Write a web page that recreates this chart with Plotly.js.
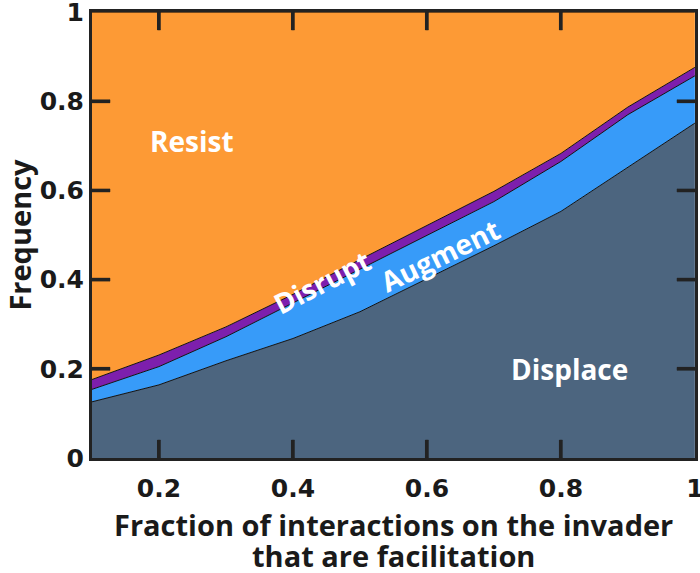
<!DOCTYPE html>
<html>
<head>
<meta charset="utf-8">
<script src="https://cdn.plot.ly/plotly-3.0.1.min.js"></script>
<style>html,body{margin:0;padding:0;background:#fff;}#chart{width:700px;height:573px;}</style>
</head>
<body>
<div id="chart"></div>
<script>
// Fraction of interactions on the invader that are facilitation
const xFrac = [0.1, 0.2, 0.3, 0.4, 0.5, 0.6, 0.7, 0.8, 0.9, 1.0];
// Frequencies of each outcome (stacked from bottom)
const displace = [0.126, 0.164, 0.218, 0.268, 0.328, 0.402, 0.476, 0.553, 0.652, 0.751];
const augment  = [0.028, 0.041, 0.054, 0.080, 0.096, 0.098, 0.099, 0.112, 0.118, 0.106];
const disrupt  = [0.022, 0.026, 0.022, 0.019, 0.021, 0.022, 0.023, 0.018, 0.017, 0.019];
const resist   = [0.824, 0.769, 0.706, 0.633, 0.555, 0.478, 0.402, 0.317, 0.213, 0.124];

const seriesNames = ['Displace', 'Augment', 'Disrupt', 'Resist'];
const seriesValues = [displace, augment, disrupt, resist];
const seriesColors = ['#4c657f', '#379bf9', '#7d1fad', '#fd9a35'];

const xTicks = [0.2, 0.4, 0.6, 0.8, 1];
const xTickText = ['0.2', '0.4', '0.6', '0.8', '1'];
const yTicks = [0, 0.2, 0.4, 0.6, 0.8, 1];
const yTickText = ['0', '0.2', '0.4', '0.6', '0.8', '1'];

const W = 700, H = 573;
const M = {l: 92, r: 5, t: 12, b: 115};
const xRange = [0.1, 1.0002];
const yRange = [0, 1.0002];
const tickColor = '#222';
const tickLen = 18;

const traces = seriesNames.map((name, i) => ({
  type: 'scatter', mode: 'lines', name: name, x: xFrac, y: seriesValues[i],
  stackgroup: 'one', fillcolor: seriesColors[i], line: {color: '#111', width: 1},
  hoverinfo: 'x+y+name'
}));

// Inward tick marks on all four sides, built from the tick values as small filled bars
const pxX = (xRange[1] - xRange[0]) / (W - M.l - M.r);
const pxY = (yRange[1] - yRange[0]) / (H - M.t - M.b);
function tickBar(x0, x1, y0, y1) {
  traces.push({
    type: 'scatter', mode: 'lines', x: [x0, x1, x1, x0, x0], y: [y0, y0, y1, y1, y0],
    fill: 'toself', fillcolor: tickColor, line: {color: tickColor, width: 0.5},
    hoverinfo: 'skip', showlegend: false
  });
}
xTicks.filter(v => v > xRange[0] && v < 1).forEach(v => {
  tickBar(v - 1.5 * pxX, v + 1.5 * pxX, yRange[0], yRange[0] + tickLen * pxY);
  tickBar(v - 1.5 * pxX, v + 1.5 * pxX, yRange[1] - tickLen * pxY, yRange[1]);
});
yTicks.filter(v => v > yRange[0] && v < 1).forEach(v => {
  tickBar(xRange[0], xRange[0] + tickLen * pxX, v - 1.5 * pxY, v + 1.5 * pxY);
  tickBar(xRange[1] - tickLen * pxX, xRange[1], v - 1.5 * pxY, v + 1.5 * pxY);
});

const axisCommon = {
  showline: true, linecolor: tickColor, linewidth: 3, mirror: 'ticks',
  ticks: 'inside', ticklen: tickLen, tickwidth: 3, tickcolor: tickColor,
  showgrid: false, zeroline: false, layer: 'above traces', ticklabeloverflow: 'allow',
  tickfont: {family: 'DejaVu Sans, sans-serif', size: 25, color: '#1a1a1a', weight: 'bold'}
};
const labelFont = {family: 'Open Sans, sans-serif', size: 28, color: '#ffffff', weight: 'bold'};
const titleFont = {family: 'Open Sans, sans-serif', size: 29, color: '#1a1a1a', weight: 'bold'};

const layout = {
  width: W, height: H,
  margin: M,
  paper_bgcolor: '#ffffff', plot_bgcolor: '#ffffff',
  showlegend: false,
  xaxis: Object.assign({}, axisCommon, {
    range: xRange, tickvals: xTicks, ticktext: xTickText, ticklabelstandoff: 6
  }),
  yaxis: Object.assign({}, axisCommon, {
    range: yRange, tickvals: yTicks, ticktext: yTickText,
    title: {text: 'Frequency', font: titleFont, standoff: 12}
  }),
  annotations: [
    {x: 0.5, y: 0, xref: 'paper', yref: 'paper', xanchor: 'center', yanchor: 'middle', yshift: -66,
     text: 'Fraction of interactions on the invader', showarrow: false, font: titleFont},
    {x: 0.5, y: 0, xref: 'paper', yref: 'paper', xanchor: 'center', yanchor: 'middle', yshift: -97,
     text: 'that are facilitation', showarrow: false, font: titleFont},
    {x: 0.249, y: 0.712, xref: 'x', yref: 'y', text: 'Resist', showarrow: false, font: labelFont},
    {x: 0.813, y: 0.199, xref: 'x', yref: 'y', text: 'Displace', showarrow: false, font: labelFont},
    {x: 0.443, y: 0.394, xref: 'x', yref: 'y', text: 'Disrupt', showarrow: false, textangle: -27, font: labelFont},
    {x: 0.620, y: 0.455, xref: 'x', yref: 'y', text: 'Augment', showarrow: false, textangle: -26, font: labelFont}
  ]
};

Plotly.newPlot('chart', traces, layout, {displayModeBar: false, staticPlot: true});
</script>
</body>
</html>
